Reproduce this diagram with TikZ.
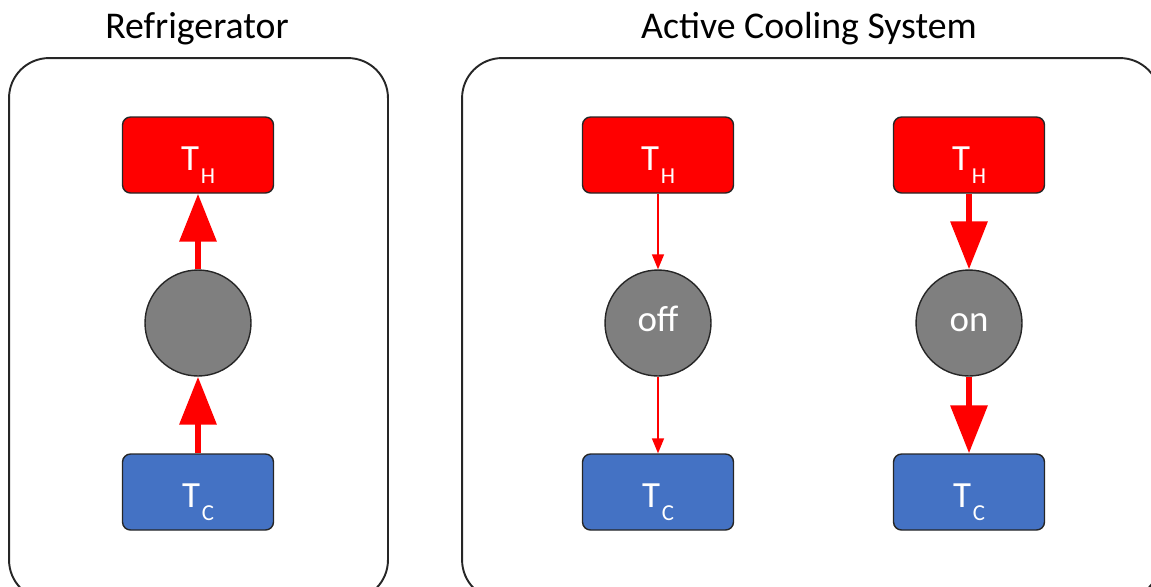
\documentclass[tikz,border=0pt]{standalone}
\usepackage{fontspec}
\setmainfont{Carlito}
\usepackage{tikz}
\usetikzlibrary{arrows.meta, positioning}

\definecolor{hotred}{HTML}{FF0000}
\definecolor{coldblue}{HTML}{4472C4}
\definecolor{pumpgray}{HTML}{7F7F7F}

\newcommand{\tlabel}[1]{T\kern1pt\raisebox{-7.4pt}{\fontsize{13}{15}\selectfont #1}}

\begin{document}
\begin{tikzpicture}[
    x=0.02cm, y=-0.02cm,
    frame/.style={rectangle, draw=black!85, line width=1.1pt, rounded corners=0.8cm, minimum width=7.58cm, minimum height=10.84cm},
    hot/.style={rectangle, draw=black!85, line width=0.8pt, fill=hotred, rounded corners=0.16cm, minimum width=3.02cm, minimum height=1.52cm, inner sep=0pt, text height=0.86cm, text depth=0.26cm, text=white, font=\fontsize{21}{24}\selectfont},
    cold/.style={hot, fill=coldblue},
    pump/.style={circle, draw=black!85, line width=0.8pt, fill=pumpgray, minimum size=2.12cm, text height=0.95em, text depth=0pt, text=white, font=\fontsize{21}{24}\selectfont},
    heat/.style={-{Triangle[width=0.72cm, length=0.96cm]}, line width=0.13cm, hotred},
    leak/.style={-{Triangle[width=0.24cm, length=0.3cm]}, line width=0.9pt, hotred},
    title/.style={anchor=base, font=\fontsize{21.5}{24}\selectfont}
]
    \clip (0,0) rectangle (1151,586);

    % frames and titles
    \node[frame] (fridge) at (198.5,329) {};
    \node[frame, minimum width=13.96cm] (active) at (811,329) {};
    \node[title] (fridgeTitle) at (197,38) {Refrigerator};
    \node[title] (activeTitle) at (809,38) {Active Cooling System};

    % refrigerator
    \node[hot] (fH) at (198,155) {\tlabel{H}};
    \node[pump] (fP) at (198,323) {};
    \node[cold] (fC) at (198,492) {\tlabel{C}};

    % active cooling, pump off
    \node[hot] (mH) at (658,155) {\tlabel{H}};
    \node[pump] (mP) at (658,323) {off};
    \node[cold] (mC) at (658,492) {\tlabel{C}};

    % active cooling, pump on
    \node[hot] (rH) at (969,155) {\tlabel{H}};
    \node[pump] (rP) at (969,323) {on};
    \node[cold] (rC) at (969,492) {\tlabel{C}};

    \draw[heat] (fC) -- (fP);
    \draw[heat] (fP) -- (fH);

    \draw[leak] (mH) -- (mP);
    \draw[leak] (mP) -- (mC);

    \draw[heat] (rH) -- (rP);
    \draw[heat] (rP) -- (rC);
\end{tikzpicture}
\end{document}
